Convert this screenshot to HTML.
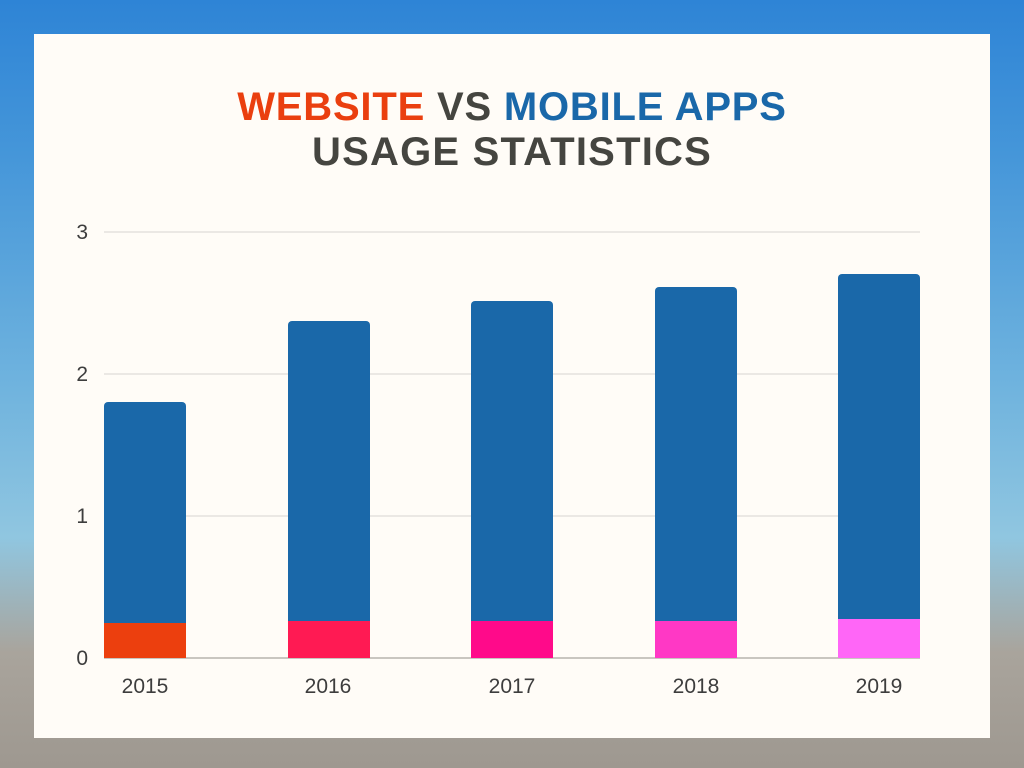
<!DOCTYPE html>
<html><head><meta charset="utf-8"><style>
body{margin:0;width:1024px;height:768px;position:relative;overflow:hidden;
background:linear-gradient(to bottom,#2e84d6 0%,#4596d9 20%,#6fb3de 50%,#90c6e0 70%,#a9a49c 85%,#9e9890 100%);
font-family:"Liberation Sans",sans-serif;}
.card{position:absolute;left:34px;top:34px;width:956px;height:704px;background:#fffcf7;}
.t{position:absolute;left:0;width:1024px;text-align:center;font-weight:bold;font-size:40px;color:#454540;line-height:1;}
.g{position:absolute;left:104px;width:816px;height:2px;background:#ebe8e4;}
.yl{position:absolute;left:60px;width:28px;text-align:right;font-size:21px;color:#3d3d3d;}
.xl{position:absolute;top:675px;width:120px;text-align:center;font-size:21px;color:#3d3d3d;}
.b{position:absolute;width:82px;background:#1a68a9;border-radius:4px 4px 0 0;}
.s{position:absolute;width:82px;}
</style></head><body>
<div class="card"></div>
<div class="t" style="top:87px;letter-spacing:0.8px"><span style="color:#ea3f0f">WEBSITE</span> VS <span style="color:#1a68a9">MOBILE APPS</span></div>
<div class="t" style="top:132px;letter-spacing:1.2px">USAGE STATISTICS</div>
<div class="g" style="top:231px"></div>
<div class="g" style="top:373px"></div>
<div class="g" style="top:515px"></div>
<div class="g" style="top:657px;background:#c9c6c0"></div>
<div class="yl" style="top:221px">3</div>
<div class="yl" style="top:363px">2</div>
<div class="yl" style="top:505px">1</div>
<div class="yl" style="top:647px">0</div>
<div class="b" style="left:104px;top:402px;height:256px"></div>
<div class="b" style="left:288px;top:321px;height:337px"></div>
<div class="b" style="left:471px;top:301px;height:357px"></div>
<div class="b" style="left:655px;top:287px;height:371px"></div>
<div class="b" style="left:838px;top:274px;height:384px"></div>
<div class="s" style="left:104px;top:623px;height:35px;background:#ec3f0e"></div>
<div class="s" style="left:288px;top:621px;height:37px;background:#ff1a53"></div>
<div class="s" style="left:471px;top:621px;height:37px;background:#ff0a8a"></div>
<div class="s" style="left:655px;top:621px;height:37px;background:#ff38c5"></div>
<div class="s" style="left:838px;top:619px;height:39px;background:#ff66f7"></div>
<div class="xl" style="left:85px">2015</div>
<div class="xl" style="left:268px">2016</div>
<div class="xl" style="left:452px">2017</div>
<div class="xl" style="left:636px">2018</div>
<div class="xl" style="left:819px">2019</div>
</body></html>
